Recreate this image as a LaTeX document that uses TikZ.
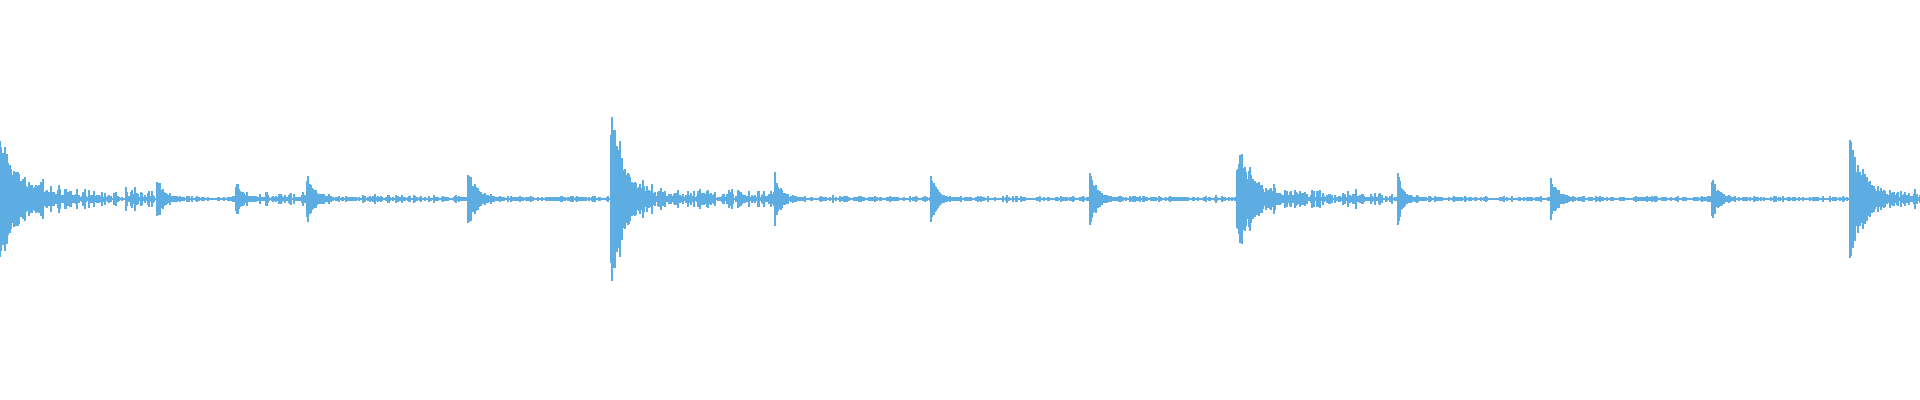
\documentclass[tikz,border=0pt]{standalone}
\usetikzlibrary{calc}
\definecolor{wave}{HTML}{5DADE2}
\tikzset{sample/.style={draw=wave,line width=0.4pt}}
% one drum hit: onset, peak, decay, length, noise
\newcommand{\drumhit}[5]{%
  \foreach \t in {0,...,#4}{%
    \pgfmathsetmacro{\h}{#2*exp(-\t/#3)*(0.55+0.45*rnd)+#5*rnd*rnd+0.8}
    \draw[sample] (#1+\t,199-\h) -- (#1+\t,199+\h);
  }}
\begin{document}
\begin{tikzpicture}[x=0.01cm,y=-0.01cm]
    \useasboundingbox (0,0) rectangle (1920,400);
    \pgfmathsetseed{11}
    \draw[sample] (0,199) -- (1920,199);
    \drumhit{0}{62}{20}{156}{13}
    \drumhit{157}{25}{6}{78}{3}
    \drumhit{236}{18}{5}{70}{8}
    \drumhit{307}{27}{7}{160}{4}
    \drumhit{468}{33}{8}{142}{3}
    \drumhit{611}{88}{14}{163}{12}
    \drumhit{775}{25}{6}{155}{3}
    \drumhit{931}{25}{6}{158}{3}
    \drumhit{1090}{27}{7}{146}{3}
    \drumhit{1237}{47}{18}{160}{11}
    \drumhit{1398}{25}{6}{152}{3}
    \drumhit{1551}{24}{6}{160}{3}
    \drumhit{1712}{22}{6}{137}{3}
    \drumhit{1850}{60}{14}{70}{10}
\end{tikzpicture}
\end{document}
